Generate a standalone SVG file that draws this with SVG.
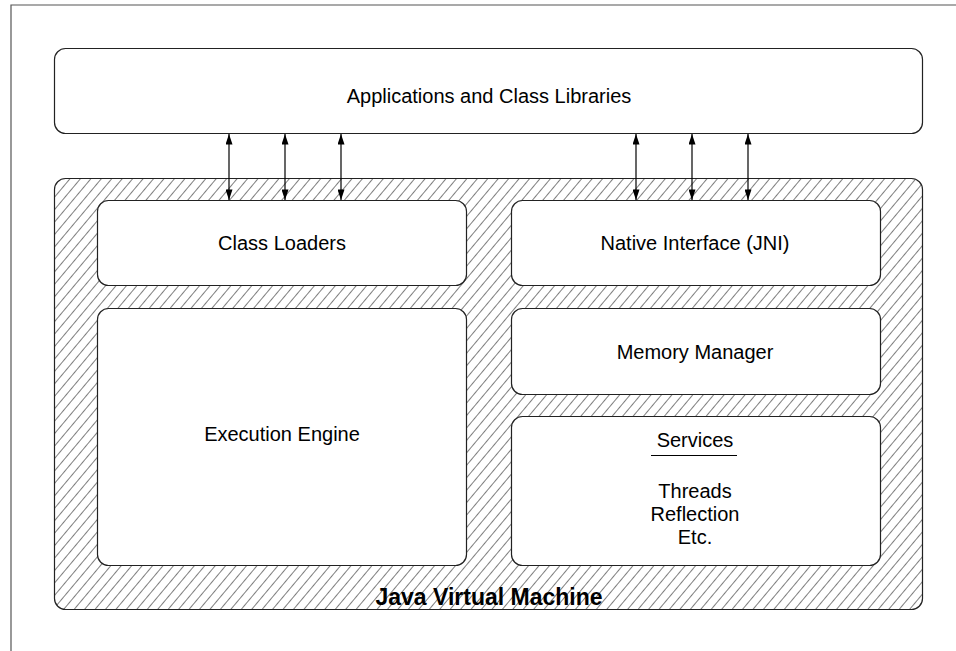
<svg xmlns="http://www.w3.org/2000/svg" width="956" height="651" viewBox="0 0 956 651">
<style>
.box{fill:#fff;stroke:#222;stroke-width:1.2}
.t{font-family:"Liberation Sans",Arial,sans-serif;font-size:20px;fill:#000;text-anchor:middle}
.b{font-family:"Liberation Sans",Arial,sans-serif;font-size:23px;font-weight:bold;fill:#000;text-anchor:middle}
.c{stroke:#000;stroke-width:1.2;fill:none;marker-start:url(#ah);marker-end:url(#ah)}
</style>
<defs>
<pattern id="hatch" patternUnits="userSpaceOnUse" width="8" height="8" patternTransform="rotate(40)">
<rect width="8" height="8" fill="#fff"/>
<line x1="0" y1="0" x2="0" y2="8" stroke="#000" stroke-width="1"/>
</pattern>
<marker id="ah" viewBox="0 0 12 8" refX="12" refY="4" markerWidth="13" markerHeight="7" markerUnits="userSpaceOnUse" orient="auto-start-reverse">
<path d="M0,0 L12,4 L0,8 Z" fill="#000"/>
</marker>
</defs>
<rect width="956" height="651" fill="#fff"/>
<path d="M11,651 V5 H956" fill="none" stroke="#555" stroke-width="1.2"/>
<g id="apps">
<rect class="box" x="54.5" y="48.5" width="868" height="85" rx="11"/>
<text class="t" x="489" y="103">Applications and Class Libraries</text>
</g>
<g id="jvm">
<rect x="54.5" y="178.5" width="868" height="431" rx="11" fill="url(#hatch)" stroke="#222" stroke-width="1.2"/>
<text class="b" x="489" y="605">Java Virtual Machine</text>
</g>
<g id="classloaders">
<rect class="box" x="97.5" y="200.5" width="369" height="85" rx="11"/>
<text class="t" x="282" y="250">Class Loaders</text>
</g>
<g id="jni">
<rect class="box" x="511.5" y="200.5" width="369" height="85" rx="11"/>
<text class="t" x="695" y="250">Native Interface (JNI)</text>
</g>
<g id="memory">
<rect class="box" x="511.5" y="308.5" width="369" height="86" rx="11"/>
<text class="t" x="695" y="359">Memory Manager</text>
</g>
<g id="execution">
<rect class="box" x="97.5" y="308.5" width="369" height="257" rx="11"/>
<text class="t" x="282" y="441">Execution Engine</text>
</g>
<g id="services">
<rect class="box" x="511.5" y="416.5" width="369" height="149" rx="11"/>
<text class="t" x="695" y="447">Services</text>
<line x1="651" y1="455.5" x2="737" y2="455.5" stroke="#000" stroke-width="1.2"/>
<text class="t" x="695" y="498">Threads</text>
<text class="t" x="695" y="521">Reflection</text>
<text class="t" x="695" y="544">Etc.</text>
</g>
<g id="connectors">
<line class="c" x1="229" y1="134" x2="229" y2="200"/>
<line class="c" x1="285" y1="134" x2="285" y2="200"/>
<line class="c" x1="341" y1="134" x2="341" y2="200"/>
<line class="c" x1="636" y1="134" x2="636" y2="200"/>
<line class="c" x1="692" y1="134" x2="692" y2="200"/>
<line class="c" x1="748" y1="134" x2="748" y2="200"/>
</g>
</svg>
